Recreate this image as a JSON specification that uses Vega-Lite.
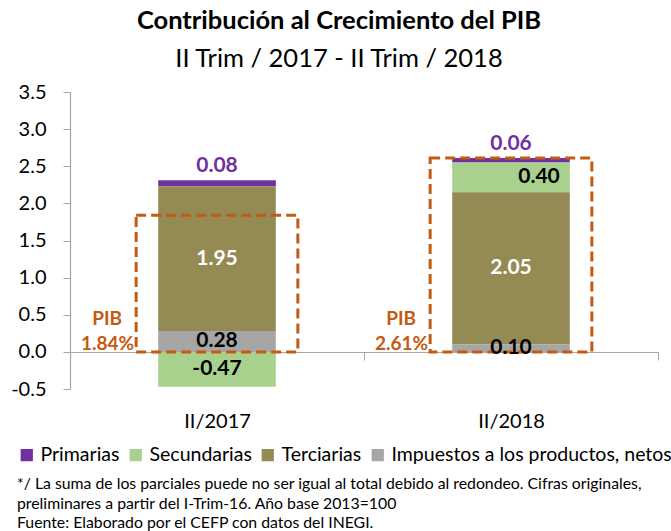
{
  "$schema": "https://vega.github.io/schema/vega-lite/v6.json",
  "autosize": "none",
  "padding": {"left": 70, "top": 92, "right": 13, "bottom": 142},
  "width": 588,
  "height": 297,
  "config": {
    "font": "Lato",
    "view": {"stroke": null},
    "axis": {"labelFont": "Lato", "titleFont": "Lato"},
    "legend": {"labelFont": "Lato", "titleFont": "Lato"}
  },
  "title": {
    "text": "Contribución al Crecimiento del PIB",
    "subtitle": "II Trim / 2017 - II Trim / 2018",
    "font": "Lato",
    "fontSize": 25.5,
    "fontWeight": "bold",
    "color": "#000000",
    "subtitleFont": "Lato",
    "subtitleFontSize": 25.5,
    "subtitleColor": "#000000",
    "subtitlePadding": 12,
    "anchor": "middle",
    "frame": "group",
    "dx": -25,
    "offset": 10
  },
  "datasets": {
    "sectores": [
      {"periodo": "II/2017", "sector": "Primarias", "valor": 0.08},
      {"periodo": "II/2017", "sector": "Secundarias", "valor": -0.47},
      {"periodo": "II/2017", "sector": "Terciarias", "valor": 1.95},
      {"periodo": "II/2017", "sector": "Impuestos a los productos, netos", "valor": 0.28},
      {"periodo": "II/2018", "sector": "Primarias", "valor": 0.06},
      {"periodo": "II/2018", "sector": "Secundarias", "valor": 0.40},
      {"periodo": "II/2018", "sector": "Terciarias", "valor": 2.05},
      {"periodo": "II/2018", "sector": "Impuestos a los productos, netos", "valor": 0.10}
    ],
    "pib": [
      {"periodo": "II/2017", "pib": 1.84},
      {"periodo": "II/2018", "pib": 2.61}
    ]
  },
  "encoding": {
    "x": {
      "field": "periodo",
      "type": "nominal",
      "sort": ["II/2017", "II/2018"],
      "scale": {"paddingInner": 0, "paddingOuter": 0},
      "axis": {
        "title": null,
        "orient": "bottom",
        "offset": -37,
        "labelAngle": 0,
        "labelFontSize": 20,
        "labelColor": "#000000",
        "labelPadding": 51,
        "tickBand": "extent",
        "tickSize": 8,
        "tickColor": "#A6A6A6",
        "domainColor": "#A6A6A6",
        "domainWidth": 1.2
      }
    }
  },
  "layer": [
    {
      "data": {"name": "sectores"},
      "transform": [
        {"calculate": "indexof(['Impuestos a los productos, netos','Terciarias','Secundarias','Primarias'], datum.sector)", "as": "orden"}
      ],
      "mark": {"type": "bar", "width": {"band": 0.4}},
      "encoding": {
        "y": {
          "field": "valor",
          "type": "quantitative",
          "stack": "zero",
          "scale": {"domain": [-0.5, 3.5], "nice": false, "zero": false},
          "axis": {
            "title": null,
            "tickCount": 8,
            "format": ".1f",
            "labelExpr": "replace(datum.label, '\u2212', '-')",
            "labelOverlap": false,
            "labelFontSize": 20,
            "labelColor": "#000000",
            "labelPadding": 17,
            "tickSize": 7,
            "tickColor": "#A6A6A6",
            "domainColor": "#A6A6A6",
            "domainWidth": 1.2,
            "grid": false
          }
        },
        "color": {
          "field": "sector",
          "type": "nominal",
          "scale": {
            "domain": ["Primarias", "Secundarias", "Terciarias", "Impuestos a los productos, netos"],
            "range": ["#7030A0", "#A9D18E", "#948A54", "#A6A6A6"]
          },
          "legend": {
            "orient": "none",
            "legendX": -53,
            "legendY": 353,
            "direction": "horizontal",
            "columns": 4,
            "padding": 0,
            "symbolType": "square",
            "symbolSize": 150,
            "symbolStrokeWidth": 0,
            "symbolOpacity": 1,
            "labelFontSize": 19.5,
            "labelColor": "#000000",
            "labelOffset": 4,
            "labelLimit": 400,
            "columnPadding": 6,
            "title": [
              "*/ La suma de los parciales puede no ser igual al total debido al redondeo. Cifras originales,",
              "preliminares a partir del I-Trim-16. Año base 2013=100",
              "Fuente: Elaborado por el CEFP con datos del INEGI."
            ],
            "titleOrient": "bottom",
            "titleAnchor": "start",
            "titleAlign": "left",
            "titleFontSize": 15.8,
            "titleFontWeight": "normal",
            "titleColor": "#000000",
            "titleLimit": 700,
            "titleLineHeight": 19.5,
            "titlePadding": 12
          }
        },
        "order": {"field": "orden", "type": "quantitative"}
      }
    },
    {
      "data": {"name": "pib"},
      "mark": {
        "type": "bar",
        "width": {"band": 0.55},
        "filled": false,
        "fill": null,
        "stroke": "#C55A11",
        "strokeWidth": 3,
        "strokeDash": [10, 5]
      },
      "encoding": {
        "y": {"field": "pib", "type": "quantitative"}
      }
    },
    {
      "data": {"name": "pib"},
      "transform": [
        {"calculate": "format(datum.pib, '.2f') + '%'", "as": "pib_label"}
      ],
      "mark": {"type": "text", "align": "right", "baseline": "middle", "dx": -2, "dy": -8, "fontSize": 19, "fontWeight": "bold", "color": "#C55A11"},
      "encoding": {
        "x": {"field": "periodo", "type": "nominal", "bandPosition": 0.225},
        "y": {"datum": 0},
        "text": {"field": "pib_label"}
      }
    },
    {
      "data": {"name": "pib"},
      "mark": {"type": "text", "text": "PIB", "align": "center", "baseline": "middle", "dx": -29, "dy": -33, "fontSize": 19, "fontWeight": "bold", "color": "#C55A11"},
      "encoding": {
        "x": {"field": "periodo", "type": "nominal", "bandPosition": 0.225},
        "y": {"datum": 0}
      }
    },
    {
      "data": {"name": "sectores"},
      "transform": [
        {"calculate": "indexof(['Impuestos a los productos, netos','Terciarias','Secundarias','Primarias'], datum.sector)", "as": "orden"},
        {"stack": "valor", "groupby": ["periodo"], "sort": [{"field": "orden"}], "offset": "zero", "as": ["v0", "v1"]},
        {"calculate": "(datum.v0 + datum.v1) / 2", "as": "vmid"},
        {"calculate": "replace(format(datum.valor, '.2f'), '\u2212', '-')", "as": "etiqueta"}
      ],
      "layer": [
        {
          "transform": [{"filter": "datum.sector == 'Primarias'"}],
          "mark": {"type": "text", "baseline": "middle", "dy": -14, "fontSize": 21, "fontWeight": "bold", "color": "#7030A0"},
          "encoding": {
            "y": {"field": "v1", "type": "quantitative"},
            "text": {"field": "etiqueta"}
          }
        },
        {
          "transform": [{"filter": "datum.sector == 'Terciarias'"}],
          "mark": {"type": "text", "baseline": "middle", "fontSize": 21, "fontWeight": "bold", "color": "#FFFFFF"},
          "encoding": {
            "y": {"field": "vmid", "type": "quantitative"},
            "text": {"field": "etiqueta"}
          }
        },
        {
          "transform": [{"filter": "datum.sector == 'Impuestos a los productos, netos' || (datum.sector == 'Secundarias' && datum.periodo == 'II/2017')"}],
          "mark": {"type": "text", "baseline": "middle", "fontSize": 21, "fontWeight": "bold", "color": "#000000"},
          "encoding": {
            "y": {"field": "vmid", "type": "quantitative"},
            "text": {"field": "etiqueta"}
          }
        },
        {
          "transform": [{"filter": "datum.sector == 'Secundarias' && datum.periodo == 'II/2018'"}],
          "mark": {"type": "text", "baseline": "middle", "dx": 28, "fontSize": 21, "fontWeight": "bold", "color": "#000000"},
          "encoding": {
            "y": {"field": "vmid", "type": "quantitative"},
            "text": {"field": "etiqueta"}
          }
        }
      ]
    }
  ]
}
